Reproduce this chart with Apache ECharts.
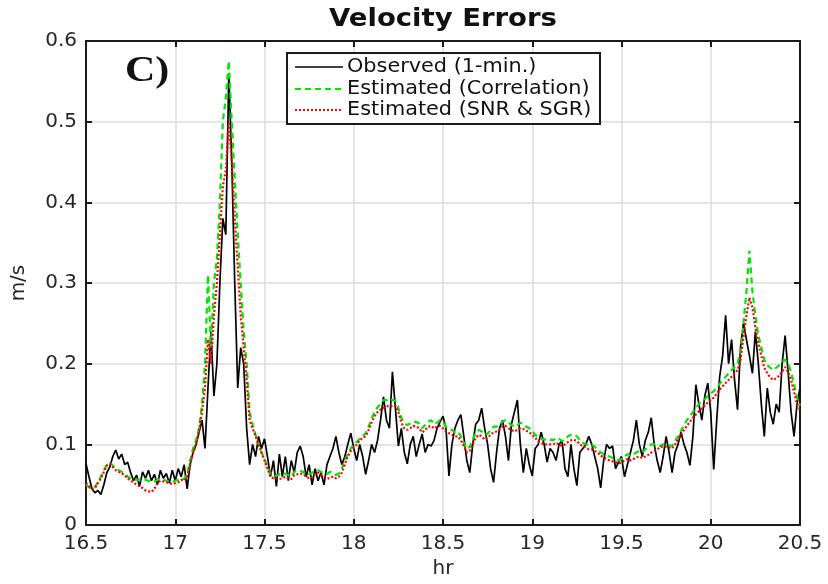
<!DOCTYPE html>
<html><head><meta charset="utf-8">
<script src="https://cdn.jsdelivr.net/npm/echarts@6/dist/echarts.min.js"></script>
<style>html,body{margin:0;padding:0;background:#fff}#c{width:828px;height:584px}</style>
</head><body><div id="c"></div>
<script>
// Time axis: 1-minute samples from 16.5 hr to 20.5 hr
var startHr = 16.5;
var stepHr = 1 / 60;
var xTicks = [16.5, 17, 17.5, 18, 18.5, 19, 19.5, 20, 20.5];
var yTicks = [0, 0.1, 0.2, 0.3, 0.4, 0.5, 0.6];
var seriesNames = ['Observed (1-min.)', 'Estimated (Correlation)', 'Estimated (SNR & SGR)'];

var observed = [
0.076,0.06,0.045,0.04,0.043,0.038,0.05,0.065,0.072,0.085,
0.093,0.082,0.088,0.075,0.078,0.065,0.055,0.062,0.048,0.066,
0.058,0.068,0.055,0.063,0.05,0.068,0.058,0.064,0.052,0.068,
0.055,0.07,0.06,0.075,0.045,0.075,0.09,0.1,0.115,0.13,
0.095,0.17,0.24,0.16,0.2,0.3,0.38,0.36,0.56,0.45,
0.3,0.17,0.22,0.2,0.12,0.075,0.1,0.085,0.11,0.095,
0.107,0.085,0.06,0.08,0.048,0.088,0.06,0.085,0.055,0.08,
0.065,0.09,0.098,0.085,0.06,0.075,0.05,0.07,0.055,0.065,
0.05,0.075,0.085,0.095,0.11,0.09,0.075,0.085,0.1,0.114,
0.095,0.08,0.1,0.085,0.063,0.08,0.1,0.09,0.105,0.13,
0.159,0.13,0.12,0.19,0.145,0.098,0.12,0.09,0.076,0.1,
0.11,0.085,0.1,0.113,0.09,0.1,0.098,0.105,0.12,0.128,
0.135,0.12,0.061,0.1,0.12,0.13,0.137,0.11,0.08,0.065,
0.1,0.125,0.13,0.145,0.12,0.1,0.07,0.053,0.09,0.12,
0.13,0.11,0.08,0.125,0.14,0.155,0.1,0.065,0.095,0.075,
0.061,0.095,0.1,0.115,0.1,0.078,0.095,0.09,0.08,0.1,
0.105,0.07,0.06,0.1,0.07,0.049,0.09,0.095,0.1,0.11,
0.1,0.085,0.07,0.046,0.08,0.1,0.095,0.098,0.07,0.078,
0.085,0.06,0.075,0.09,0.105,0.13,0.1,0.085,0.105,0.115,
0.133,0.1,0.08,0.065,0.085,0.11,0.09,0.065,0.09,0.1,
0.115,0.1,0.09,0.074,0.11,0.174,0.15,0.13,0.16,0.176,
0.14,0.069,0.13,0.184,0.21,0.26,0.2,0.23,0.18,0.143,
0.22,0.25,0.23,0.21,0.188,0.24,0.2,0.15,0.11,0.17,
0.14,0.125,0.15,0.14,0.2,0.235,0.19,0.14,0.11,0.15,
0.17
];

var correlation = [
0.05,0.047,0.045,0.047,0.053,0.06,0.068,0.075,0.077,0.074,
0.07,0.068,0.066,0.064,0.06,0.058,0.057,0.056,0.056,0.057,
0.056,0.055,0.053,0.054,0.056,0.057,0.056,0.055,0.054,0.054,
0.055,0.056,0.058,0.057,0.063,0.08,0.095,0.105,0.12,0.15,
0.2,0.31,0.22,0.3,0.33,0.4,0.5,0.53,0.575,0.5,
0.43,0.36,0.3,0.24,0.2,0.14,0.125,0.112,0.1,0.09,
0.082,0.072,0.064,0.062,0.061,0.063,0.062,0.064,0.062,0.06,
0.066,0.068,0.067,0.066,0.062,0.063,0.065,0.067,0.068,0.066,
0.064,0.063,0.066,0.065,0.062,0.064,0.07,0.08,0.088,0.095,
0.1,0.103,0.107,0.11,0.114,0.122,0.132,0.14,0.146,0.15,
0.155,0.155,0.157,0.155,0.154,0.145,0.133,0.126,0.124,0.126,
0.128,0.128,0.126,0.12,0.124,0.128,0.13,0.125,0.127,0.13,
0.128,0.122,0.12,0.118,0.115,0.116,0.11,0.102,0.094,0.097,
0.106,0.114,0.118,0.116,0.112,0.113,0.118,0.122,0.122,0.124,
0.128,0.13,0.127,0.124,0.122,0.124,0.127,0.125,0.122,0.12,
0.117,0.112,0.108,0.107,0.106,0.107,0.106,0.105,0.108,0.107,
0.104,0.106,0.11,0.112,0.112,0.11,0.105,0.102,0.1,0.099,
0.1,0.097,0.094,0.09,0.088,0.086,0.085,0.083,0.082,0.08,
0.082,0.085,0.088,0.086,0.088,0.09,0.092,0.09,0.094,0.097,
0.1,0.1,0.1,0.098,0.1,0.1,0.099,0.098,0.104,0.11,
0.117,0.124,0.13,0.135,0.14,0.145,0.15,0.153,0.156,0.16,
0.163,0.166,0.17,0.175,0.18,0.184,0.188,0.192,0.196,0.2,
0.215,0.25,0.29,0.34,0.29,0.26,0.235,0.22,0.205,0.198,
0.195,0.192,0.195,0.198,0.202,0.205,0.2,0.19,0.175,0.158,
0.148
];

var snrSgr = [
0.052,0.048,0.045,0.046,0.052,0.058,0.066,0.074,0.076,0.072,
0.068,0.066,0.064,0.062,0.058,0.055,0.053,0.05,0.048,0.046,
0.043,0.042,0.041,0.045,0.052,0.055,0.054,0.053,0.052,0.051,
0.052,0.053,0.056,0.055,0.06,0.075,0.09,0.1,0.118,0.14,
0.17,0.23,0.2,0.26,0.3,0.36,0.42,0.44,0.5,0.45,
0.38,0.32,0.26,0.22,0.18,0.13,0.12,0.11,0.1,0.09,
0.08,0.07,0.06,0.058,0.058,0.057,0.058,0.06,0.058,0.057,
0.062,0.063,0.064,0.063,0.06,0.058,0.06,0.063,0.065,0.062,
0.06,0.058,0.058,0.06,0.058,0.06,0.065,0.075,0.085,0.092,
0.096,0.1,0.105,0.108,0.11,0.118,0.127,0.135,0.14,0.143,
0.145,0.147,0.148,0.147,0.148,0.14,0.127,0.12,0.118,0.12,
0.123,0.122,0.12,0.115,0.118,0.122,0.123,0.12,0.122,0.123,
0.12,0.116,0.114,0.112,0.11,0.11,0.105,0.098,0.09,0.092,
0.1,0.108,0.112,0.11,0.106,0.108,0.112,0.115,0.116,0.118,
0.122,0.123,0.12,0.118,0.116,0.118,0.12,0.119,0.117,0.115,
0.112,0.108,0.104,0.102,0.1,0.1,0.1,0.1,0.102,0.1,
0.098,0.1,0.103,0.105,0.106,0.104,0.1,0.098,0.096,0.094,
0.094,0.092,0.09,0.086,0.084,0.082,0.08,0.079,0.078,0.076,
0.078,0.08,0.082,0.08,0.082,0.084,0.085,0.083,0.085,0.087,
0.09,0.092,0.094,0.096,0.098,0.097,0.096,0.095,0.1,0.106,
0.112,0.118,0.123,0.128,0.133,0.137,0.141,0.145,0.148,0.152,
0.155,0.158,0.163,0.168,0.172,0.176,0.18,0.184,0.188,0.192,
0.205,0.233,0.26,0.282,0.27,0.245,0.225,0.21,0.195,0.188,
0.183,0.18,0.182,0.185,0.19,0.196,0.19,0.18,0.165,0.15,
0.143
];

function pairs(arr) {
  return arr.map(function (v, i) { return [startHr + i * stepHr, v]; });
}

var FONT = 'DejaVu Sans';
var chart = echarts.init(document.getElementById('c'), null, {renderer: 'canvas'});

var axisCommon = {
  axisLine: {show: true, onZero: false, lineStyle: {color: '#1a1a1a', width: 2}},
  axisTick: {show: true, inside: true, length: 6, lineStyle: {color: '#1a1a1a', width: 2}}
};

chart.setOption({
  animation: false,
  backgroundColor: '#ffffff',
  grid: {left: 86, right: 28, top: 41, bottom: 54, containLabel: false},
  xAxis: [
    Object.assign({
      type: 'value', min: xTicks[0], max: xTicks[xTicks.length - 1], interval: 0.5,
      position: 'bottom',
      name: 'hr', nameLocation: 'middle', nameGap: 32,
      nameTextStyle: {fontFamily: FONT, fontSize: 20, color: '#262626'},
      axisLabel: {fontFamily: FONT, fontSize: 20, color: '#262626', margin: 9},
      splitLine: {show: true, lineStyle: {color: '#dcdcdc', width: 1.5}}
    }, axisCommon),
    Object.assign({
      type: 'value', min: xTicks[0], max: xTicks[xTicks.length - 1], interval: 0.5,
      position: 'top', axisLabel: {show: false}, splitLine: {show: false}
    }, axisCommon)
  ],
  yAxis: [
    Object.assign({
      type: 'value', min: yTicks[0], max: yTicks[yTicks.length - 1], interval: 0.1,
      position: 'left',
      name: 'm/s', nameLocation: 'middle', nameGap: 57,
      nameTextStyle: {fontFamily: FONT, fontSize: 20, color: '#262626'},
      axisLabel: {fontFamily: FONT, fontSize: 20, color: '#262626', margin: 9,
        formatter: function (v) { return v === 0 ? '0' : v.toFixed(1); }},
      splitLine: {show: true, lineStyle: {color: '#dcdcdc', width: 1.5}}
    }, axisCommon),
    Object.assign({
      type: 'value', min: yTicks[0], max: yTicks[yTicks.length - 1], interval: 0.1,
      position: 'right', axisLabel: {show: false}, splitLine: {show: false}
    }, axisCommon)
  ],
  series: [
    {name: seriesNames[0], type: 'line', data: pairs(observed), showSymbol: false, z: 2,
     lineStyle: {color: '#000000', width: 1.7}},
    {name: seriesNames[1], type: 'line', data: pairs(correlation), showSymbol: false, z: 3,
     lineStyle: {color: '#00e600', width: 2.2, type: [6, 4]}},
    {name: seriesNames[2], type: 'line', data: pairs(snrSgr), showSymbol: false, z: 4,
     lineStyle: {color: '#ff0000', width: 2.2, type: [2, 2]}}
  ],
  graphic: [
    {type: 'text', x: 443, y: 7, z: 10, scaleX: 1.1, originX: 0,
     style: {text: 'Velocity Errors', fontFamily: FONT, fontWeight: 'bold', fontSize: 25, fill: '#111', textAlign: 'center'}},
    {type: 'text', x: 125, y: 54, z: 10, scaleX: 1.2,
     style: {text: 'C)', fontFamily: 'Liberation Serif', fontWeight: 'bold', fontSize: 35, fill: '#111'}},
    {type: 'rect', z: 10, shape: {x: 287, y: 53, width: 313, height: 71},
     style: {fill: '#ffffff', stroke: '#1a1a1a', lineWidth: 2}},
    {type: 'line', z: 11, shape: {x1: 295, y1: 67, x2: 343, y2: 67},
     style: {stroke: '#000000', lineWidth: 1.4}},
    {type: 'line', z: 11, shape: {x1: 295, y1: 89, x2: 343, y2: 89},
     style: {stroke: '#00e600', lineWidth: 2.2, lineDash: [6, 4]}},
    {type: 'line', z: 11, shape: {x1: 295, y1: 110, x2: 343, y2: 110},
     style: {stroke: '#ff0000', lineWidth: 2.2, lineDash: [2, 2]}},
    {type: 'text', z: 11, x: 347, y: 67, scaleX: 1.04,
     style: {text: seriesNames[0], fontFamily: FONT, fontSize: 20, fill: '#111', textVerticalAlign: 'middle'}},
    {type: 'text', z: 11, x: 347, y: 89, scaleX: 1.04,
     style: {text: seriesNames[1], fontFamily: FONT, fontSize: 20, fill: '#111', textVerticalAlign: 'middle'}},
    {type: 'text', z: 11, x: 347, y: 110, scaleX: 1.04,
     style: {text: seriesNames[2], fontFamily: FONT, fontSize: 20, fill: '#111', textVerticalAlign: 'middle'}}
  ]
});
</script>
</body></html>
